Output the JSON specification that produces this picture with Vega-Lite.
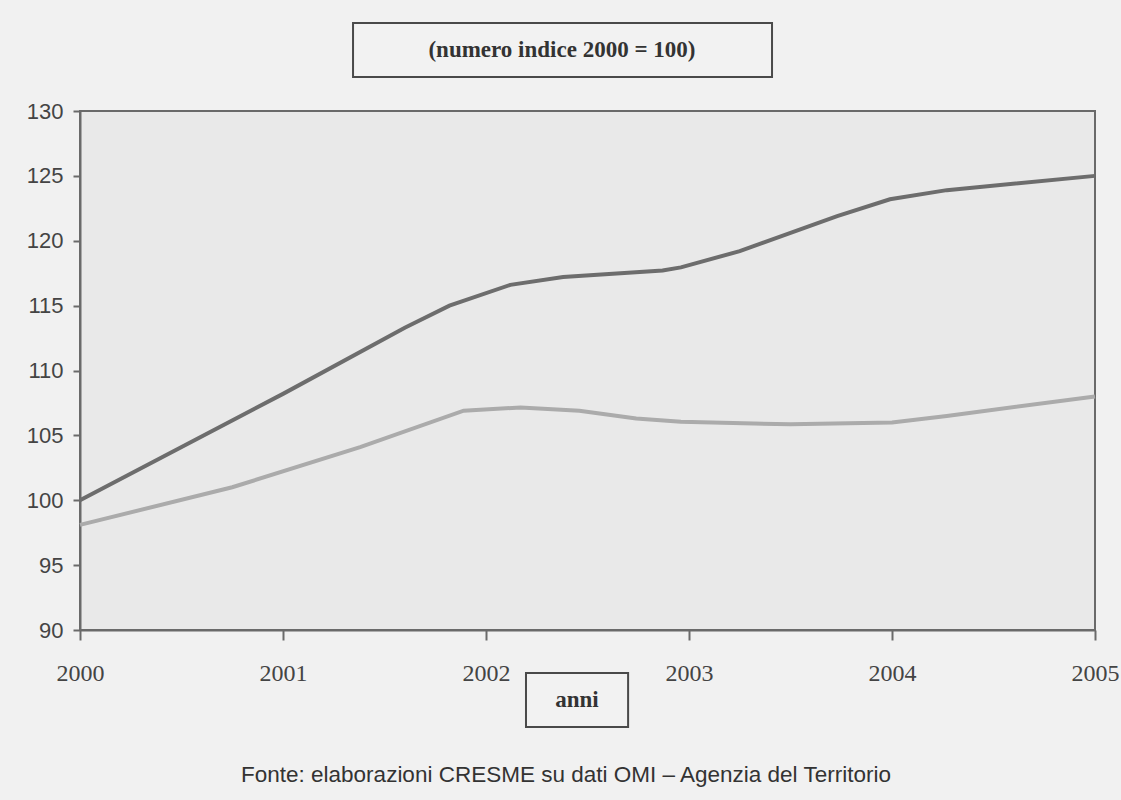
{
  "$schema": "https://vega.github.io/schema/vega-lite/v6.json",
  "width": 1015,
  "height": 519,
  "autosize": {"type": "none"},
  "padding": {"left": 80, "top": 111, "right": 26, "bottom": 170},
  "background": "#f1f1f1",
  "config": {
    "view": {"fill": "#e9e9e9", "stroke": "#6a6a6a", "strokeWidth": 2},
    "axis": {"grid": false, "domainColor": "#6a6a6a", "domainWidth": 2, "tickColor": "#6a6a6a", "tickWidth": 2, "title": null}
  },
  "datasets": {
    "serie": [
      {"anno": 2000.0, "indice": 100.0, "serie": "A"},
      {"anno": 2001.0, "indice": 108.2, "serie": "A"},
      {"anno": 2001.6, "indice": 113.3, "serie": "A"},
      {"anno": 2001.82, "indice": 115.0, "serie": "A"},
      {"anno": 2002.12, "indice": 116.6, "serie": "A"},
      {"anno": 2002.38, "indice": 117.2, "serie": "A"},
      {"anno": 2002.87, "indice": 117.7, "serie": "A"},
      {"anno": 2002.96, "indice": 117.95, "serie": "A"},
      {"anno": 2003.25, "indice": 119.2, "serie": "A"},
      {"anno": 2003.73, "indice": 121.9, "serie": "A"},
      {"anno": 2003.99, "indice": 123.2, "serie": "A"},
      {"anno": 2004.27, "indice": 123.9, "serie": "A"},
      {"anno": 2005.0, "indice": 125.0, "serie": "A"},
      {"anno": 2000.0, "indice": 98.1, "serie": "B"},
      {"anno": 2000.75, "indice": 101.0, "serie": "B"},
      {"anno": 2001.38, "indice": 104.1, "serie": "B"},
      {"anno": 2001.89, "indice": 106.9, "serie": "B"},
      {"anno": 2002.17, "indice": 107.15, "serie": "B"},
      {"anno": 2002.46, "indice": 106.9, "serie": "B"},
      {"anno": 2002.74, "indice": 106.3, "serie": "B"},
      {"anno": 2002.96, "indice": 106.05, "serie": "B"},
      {"anno": 2003.5, "indice": 105.85, "serie": "B"},
      {"anno": 2004.0, "indice": 106.0, "serie": "B"},
      {"anno": 2004.27, "indice": 106.5, "serie": "B"},
      {"anno": 2005.0, "indice": 108.0, "serie": "B"}
    ],
    "titolo": [{"testo": "(numero indice 2000 = 100)"}],
    "asse": [{"testo": "anni"}],
    "fonte": [{"testo": "Fonte: elaborazioni CRESME su dati OMI – Agenzia del Territorio"}]
  },
  "layer": [
    {
      "data": {"name": "serie"},
      "mark": {"type": "line", "strokeWidth": 4, "interpolate": "linear"},
      "encoding": {
        "x": {"field": "anno", "type": "quantitative",
          "scale": {"domain": [2000, 2005], "nice": false, "zero": false},
          "axis": {"values": [2000, 2001, 2002, 2003, 2004, 2005], "format": "d", "labelFont": "Liberation Serif", "labelFontSize": 24, "labelColor": "#444444", "tickSize": 10, "labelPadding": 21, "labelFlush": false}},
        "y": {"field": "indice", "type": "quantitative",
          "scale": {"domain": [90, 130], "nice": false, "zero": false},
          "axis": {"values": [90, 95, 100, 105, 110, 115, 120, 125, 130], "labelFont": "Liberation Sans", "labelFontSize": 22, "labelColor": "#444444", "tickSize": 7, "labelPadding": 10}},
        "color": {"field": "serie", "type": "nominal", "scale": {"domain": ["A", "B"], "range": ["#6d6d6d", "#ababab"]}, "legend": null}
      }
    },
    {
      "data": {"name": "titolo"},
      "mark": {"type": "rect", "fill": "#f2f2f2", "stroke": "#4a4a4a", "strokeWidth": 2},
      "encoding": {
        "x": {"datum": 2001.345, "type": "quantitative"},
        "x2": {"datum": 2003.409},
        "y": {"datum": 136.78, "type": "quantitative"},
        "y2": {"datum": 132.62}
      }
    },
    {
      "data": {"name": "titolo"},
      "mark": {"type": "text", "font": "Liberation Serif", "fontSize": 23, "fontWeight": "bold", "color": "#333333", "align": "center", "baseline": "middle"},
      "encoding": {
        "x": {"datum": 2002.374, "type": "quantitative"},
        "y": {"datum": 134.7, "type": "quantitative"},
        "text": {"field": "testo"}
      }
    },
    {
      "data": {"name": "asse"},
      "mark": {"type": "rect", "fill": "#f2f2f2", "stroke": "#4a4a4a", "strokeWidth": 2},
      "encoding": {
        "x": {"datum": 2002.197, "type": "quantitative"},
        "x2": {"datum": 2002.7},
        "y": {"datum": 86.69, "type": "quantitative"},
        "y2": {"datum": 82.53}
      }
    },
    {
      "data": {"name": "asse"},
      "mark": {"type": "text", "font": "Liberation Serif", "fontSize": 23, "fontWeight": "bold", "color": "#333333", "align": "center", "baseline": "middle"},
      "encoding": {
        "x": {"datum": 2002.448, "type": "quantitative"},
        "y": {"datum": 84.6, "type": "quantitative"},
        "text": {"field": "testo"}
      }
    },
    {
      "data": {"name": "fonte"},
      "mark": {"type": "text", "font": "Liberation Sans", "fontSize": 22.5, "color": "#333333", "align": "center", "baseline": "middle"},
      "encoding": {
        "x": {"datum": 2002.394, "type": "quantitative"},
        "y": {"datum": 78.83, "type": "quantitative"},
        "text": {"field": "testo"}
      }
    }
  ]
}
